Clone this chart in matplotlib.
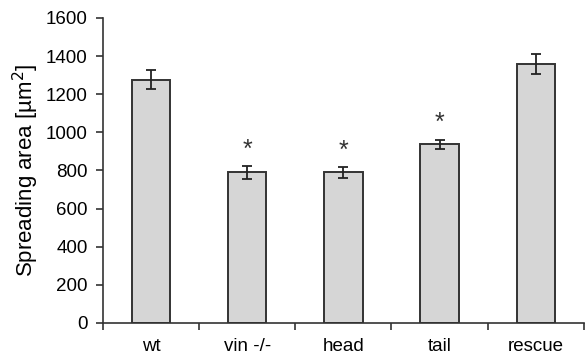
import matplotlib.pyplot as plt
import numpy as np

categories = ["wt", "vin -/-", "head", "tail", "rescue"]
means = [1275, 790, 790, 937, 1357]
errors = [50, 35, 30, 25, 52]
significant = [False, True, True, True, False]
y_ticks = [0, 200, 400, 600, 800, 1000, 1200, 1400, 1600]


def main():
    plt.rcParams["font.family"] = ["Liberation Sans", "DejaVu Sans"]
    fig = plt.figure(figsize=(5.85, 3.58), dpi=100)
    ax = fig.add_axes([0.176, 0.098, 0.822, 0.852])

    x = np.arange(len(categories))
    ax.bar(x, means, width=0.4, color="#d6d6d6", edgecolor="#333333",
           linewidth=1.4, zorder=2)
    ax.errorbar(x, means, yerr=errors, fmt="none", ecolor="#222222",
                elinewidth=1.3, capsize=3.3, capthick=1.3, zorder=3)

    for xi, m, e, sig in zip(x, means, errors, significant):
        if sig:
            ax.annotate("*", (xi, m + e), xytext=(0, 3),
                        textcoords="offset points", ha="center", va="bottom",
                        fontsize=18, color="#333333")

    ax.set_xlim(-0.5, len(categories) - 0.5)
    ax.set_ylim(0, 1600)
    ax.set_yticks(y_ticks)
    ax.set_xticks(x)
    ax.set_xticklabels(categories)
    ax.set_xticks(np.arange(len(categories) + 1) - 0.5, minor=True)
    ax.tick_params(axis="x", which="major", length=0, pad=11, labelsize=13.5)
    ax.tick_params(axis="x", which="minor", length=5, width=1.2,
                   direction="out", color="#333333")
    ax.tick_params(axis="y", length=5, width=1.2, direction="out",
                   color="#333333", labelsize=13.5, pad=6)

    for side in ["top", "right"]:
        ax.spines[side].set_visible(False)
    for side in ["left", "bottom"]:
        ax.spines[side].set_linewidth(1.2)
        ax.spines[side].set_color("#333333")

    ax.set_ylabel("Spreading area [µm$^2$]", fontsize=16)
    ax.yaxis.set_label_coords(-0.128, 0.5)

    fig.savefig("out.png", dpi=100)


if __name__ == "__main__":
    main()
